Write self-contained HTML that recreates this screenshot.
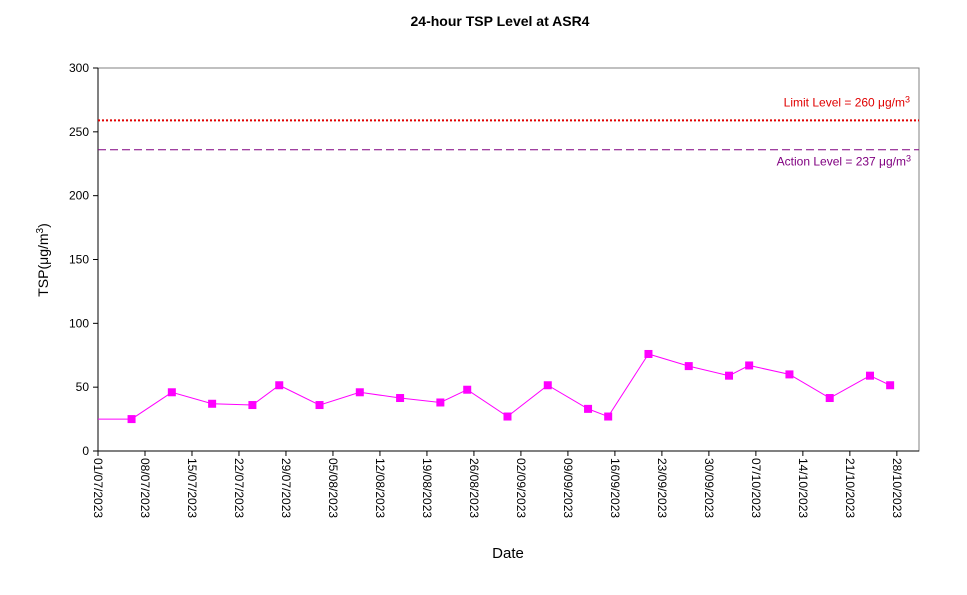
<!DOCTYPE html>
<html><head><meta charset="utf-8"><style>
body{margin:0;background:#fff;font-family:"Liberation Sans",Arial,sans-serif;}
svg text{font-family:"Liberation Sans",Arial,sans-serif;}
</style></head><body>
<svg id="c" width="967" height="590" xmlns="http://www.w3.org/2000/svg">
<text x="500" y="26" text-anchor="middle" font-size="14" font-weight="bold">24-hour TSP Level at ASR4</text>
<rect x="98" y="68" width="821" height="383" fill="none" stroke="#808080"/>
<g id="yaxis"></g>
<g id="xaxis"></g>
<g id="refs"></g>
<g id="series"></g>
<text x="0" y="0" transform="translate(48,260) rotate(-90)" text-anchor="middle" font-size="14">TSP(μg/m<tspan dy="-5" font-size="10">3</tspan><tspan dy="5">)</tspan></text>
<text x="508" y="558" text-anchor="middle" font-size="15">Date</text>
</svg>
<script>
const yTicks=[0,50,100,150,200,250,300];
const xTickLabels=["01/07/2023","08/07/2023","15/07/2023","22/07/2023","29/07/2023","05/08/2023","12/08/2023","19/08/2023","26/08/2023","02/09/2023","09/09/2023","16/09/2023","23/09/2023","30/09/2023","07/10/2023","14/10/2023","21/10/2023","28/10/2023"];
const days=[-1,5,11,17,23,27,33,39,45,51,55,61,67,73,76,82,88,94,97,103,109,115,118];
const values=[25,25,46,37,36,51.5,36,46,41.5,38,48,27,51.5,33,27,76,66.5,59,67,60,41.5,59,51.5];
const limitLevel=[259];
const actionLevel=[236];
const NS="http://www.w3.org/2000/svg";
const X0=98,X1=919,Y0=451,Y1=68,DMAX=122.3,VMAX=300;
const xs=d=>X0+(d/DMAX)*(X1-X0);
const ys=v=>Y0-(v/VMAX)*(Y0-Y1);
function mk(tag,attrs,parent){const e=document.createElementNS(NS,tag);for(const k in attrs)e.setAttribute(k,attrs[k]);parent.appendChild(e);return e;}
const ya=document.getElementById('yaxis');
yTicks.forEach(t=>{
 const l=mk('line',{x1:X0-5,x2:X0,y1:ys(t),y2:ys(t),stroke:'#000'},ya);
 
 
 const tx=mk('text',{x:X0-9,y:ys(t)+4,'text-anchor':'end','font-size':12},ya);
 
 
 tx.textContent=t;
});
const xa=document.getElementById('xaxis');
mk('line',{x1:X0,x2:X1,y1:Y0,y2:Y0,stroke:'#000'},xa);
xTickLabels.forEach((lab,i)=>{
 const x=xs(i*7);
 const l=mk('line',{x1:x,x2:x,y1:Y0,y2:Y0+5,stroke:'#000'},xa);
 
 
 const tx=mk('text',{x:0,y:0,transform:`translate(${x-4},${Y0+7}) rotate(90)`,'font-size':12},xa);
 
 
 tx.textContent=lab;
});
mk('line',{x1:X0,x2:X0,y1:Y1,y2:Y0,stroke:'#000'},ya);
const rf=document.getElementById('refs');
const ll=mk('line',{x1:X0,x2:X1,y1:ys(limitLevel[0]),y2:ys(limitLevel[0]),stroke:'#e00000','stroke-width':2,'stroke-dasharray':'2,2'},rf);


const lt=mk('text',{x:910,y:ys(limitLevel[0])-14,'text-anchor':'end','font-size':12,fill:'#e00000'},rf);


lt.innerHTML='Limit Level  = 260 μg/m<tspan dy="-4" font-size="9">3</tspan>';
const al=mk('line',{x1:X0,x2:X1,y1:ys(actionLevel[0]),y2:ys(actionLevel[0]),stroke:'#800080','stroke-width':1,'stroke-dasharray':'8,4'},rf);


const at=mk('text',{x:911,y:ys(actionLevel[0])+16,'text-anchor':'end','font-size':12,fill:'#800080'},rf);


at.innerHTML='Action Level  = 237 μg/m<tspan dy="-4" font-size="9">3</tspan>';
const sg=document.getElementById('series');
const pts=days.map((d,i)=>[Math.max(X0,xs(d)),ys(values[i])]);
const pl=mk('polyline',{points:pts.map(p=>p.join(',')).join(' '),fill:'none',stroke:'#ff00ff','stroke-width':1},sg);


days.forEach((d,i)=>{
 if(d<0)return;
 const r=mk('rect',{x:xs(d)-4,y:ys(values[i])-4,width:8,height:8,fill:'#ff00ff'},sg);
 
 
});
</script>
</body></html>
